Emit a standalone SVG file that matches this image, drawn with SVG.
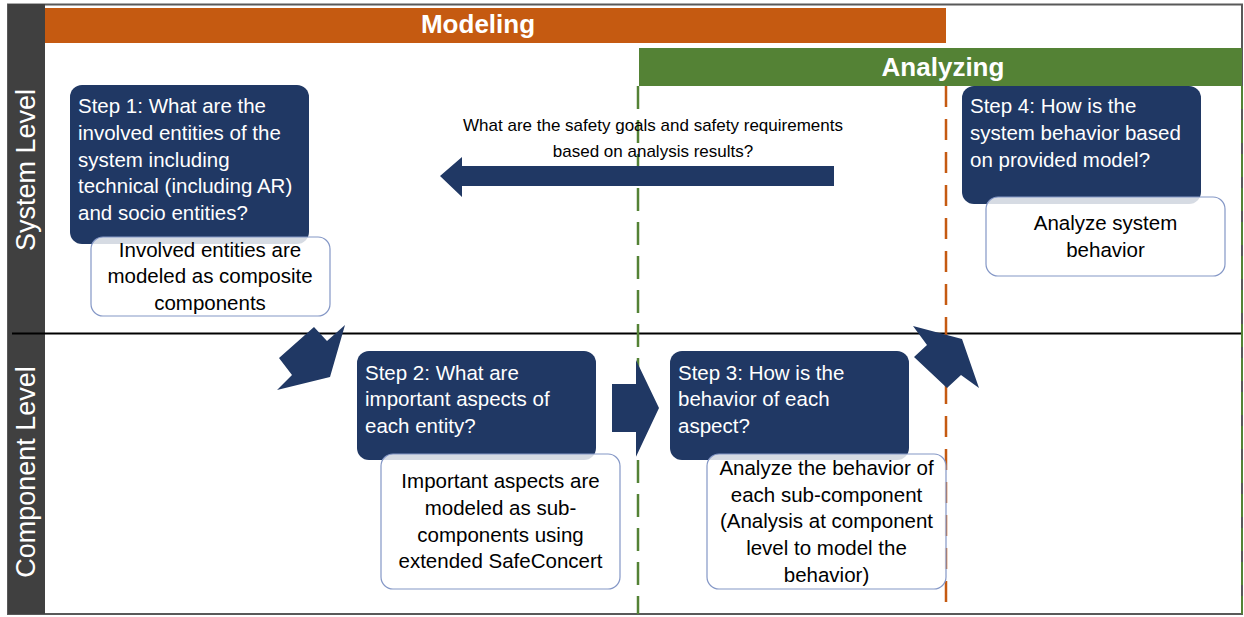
<svg xmlns="http://www.w3.org/2000/svg" width="1244" height="617" viewBox="0 0 1244 617">
<style>
.step{fill:#203864;}
.note{fill:#ffffff;fill-opacity:0.82;stroke:#8497C6;stroke-width:1.2;}
.st{font-family:"Liberation Sans",Arial,sans-serif;font-size:20.5px;fill:#ffffff;}
.nt{font-family:"Liberation Sans",Arial,sans-serif;font-size:20.5px;fill:#000000;text-anchor:middle;}
.lane{font-family:"Liberation Sans",Arial,sans-serif;font-size:27px;fill:#ffffff;text-anchor:middle;}
.phase{font-family:"Liberation Sans",Arial,sans-serif;font-size:26px;font-weight:bold;fill:#ffffff;text-anchor:middle;}
.q{font-family:"Liberation Sans",Arial,sans-serif;font-size:17px;fill:#000000;text-anchor:middle;}
.arrow{fill:#203864;}
</style>
<rect x="0" y="0" width="1244" height="617" fill="#ffffff"/>
<g id="frame">
<rect x="8" y="4.5" width="1234" height="609.5" fill="none" stroke="#595959" stroke-width="2"/>
<rect x="8" y="4" width="37" height="610" fill="#404040"/>
<text class="lane" transform="translate(35,170) rotate(-90)">System Level</text>
<text class="lane" transform="translate(35,472) rotate(-90)">Component Level</text>
<line x1="12" y1="333.5" x2="1241" y2="333.5" stroke="#000000" stroke-width="2.2"/>
</g>
<g id="phases">
<rect x="45" y="8" width="901" height="35" fill="#C55A11"/>
<text class="phase" x="478" y="33">Modeling</text>
<rect x="639" y="48" width="603" height="38" fill="#548235"/>
<text class="phase" x="943" y="76">Analyzing</text>
<line x1="638" y1="86" x2="638" y2="614" stroke="#548235" stroke-width="2.5" stroke-dasharray="23 11"/>
<line x1="1242" y1="86" x2="1242" y2="614" stroke="#548235" stroke-width="2" stroke-dasharray="23 11"/>
<line x1="946" y1="86" x2="946" y2="614" stroke="#C55A11" stroke-width="2.5" stroke-dasharray="21 12"/>
</g>
<g id="connectors">
<polygon class="arrow" points="440,176 462,157 462,166 834,166 834,186 462,186 462,197"/>
<polygon class="arrow" points="612,384 636,384 636,360 659,408 636,456.7 636,432 612,432"/>
<polygon class="arrow" points="314,327 327,341 345,325 330,377 277,390 292,375 279,358"/>
<polygon class="arrow" points="913,326 962,339 979,388 961,375 947,388 914,357 927,345"/>
<text class="q" x="653" y="131">What are the safety goals and safety requirements</text>
<text class="q" x="653" y="157">based on analysis results?</text>
</g>
<g id="step1">
<rect class="step" x="70" y="85" width="239" height="159" rx="12"/>
<text class="st" x="78" y="113.3">Step 1: What are the</text>
<text class="st" x="78" y="140">involved entities of the</text>
<text class="st" x="78" y="166.7">system including</text>
<text class="st" x="78" y="193.3">technical (including AR)</text>
<text class="st" x="78" y="220">and socio entities?</text>
</g>
<g id="note1">
<rect class="note" x="91" y="237" width="239" height="79" rx="12"/>
<text class="nt" x="210" y="256.7">Involved entities are</text>
<text class="nt" x="210" y="283.3">modeled as composite</text>
<text class="nt" x="210" y="310">components</text>
</g>
<g id="step4">
<rect class="step" x="962" y="86" width="239" height="118" rx="12"/>
<text class="st" x="970" y="113.3">Step 4: How is the</text>
<text class="st" x="970" y="140">system behavior based</text>
<text class="st" x="970" y="166.7">on provided model?</text>
</g>
<g id="note4">
<rect class="note" x="986" y="197" width="239" height="79" rx="12"/>
<text class="nt" x="1105.5" y="230">Analyze system</text>
<text class="nt" x="1105.5" y="256.7">behavior</text>
</g>
<g id="step2">
<rect class="step" x="357" y="351" width="239" height="109" rx="12"/>
<text class="st" x="365" y="379.5">Step 2: What are</text>
<text class="st" x="365" y="406">important aspects of</text>
<text class="st" x="365" y="432.7">each entity?</text>
</g>
<g id="note2">
<rect class="note" x="381" y="454" width="239" height="135" rx="12"/>
<text class="nt" x="500.5" y="488.3">Important aspects are</text>
<text class="nt" x="500.5" y="515">modeled as sub-</text>
<text class="nt" x="500.5" y="541.7">components using</text>
<text class="nt" x="500.5" y="568.3">extended SafeConcert</text>
</g>
<g id="step3">
<rect class="step" x="670" y="351" width="239" height="109" rx="12"/>
<text class="st" x="678" y="379.5">Step 3: How is the</text>
<text class="st" x="678" y="406">behavior of each</text>
<text class="st" x="678" y="432.7">aspect?</text>
</g>
<g id="note3">
<rect class="note" x="707" y="454" width="239" height="135" rx="12"/>
<text class="nt" x="826.5" y="475">Analyze the behavior of</text>
<text class="nt" x="826.5" y="501.7">each sub-component</text>
<text class="nt" x="826.5" y="528.3">(Analysis at component</text>
<text class="nt" x="826.5" y="555">level to model the</text>
<text class="nt" x="826.5" y="581.7">behavior)</text>
</g>
</svg>
